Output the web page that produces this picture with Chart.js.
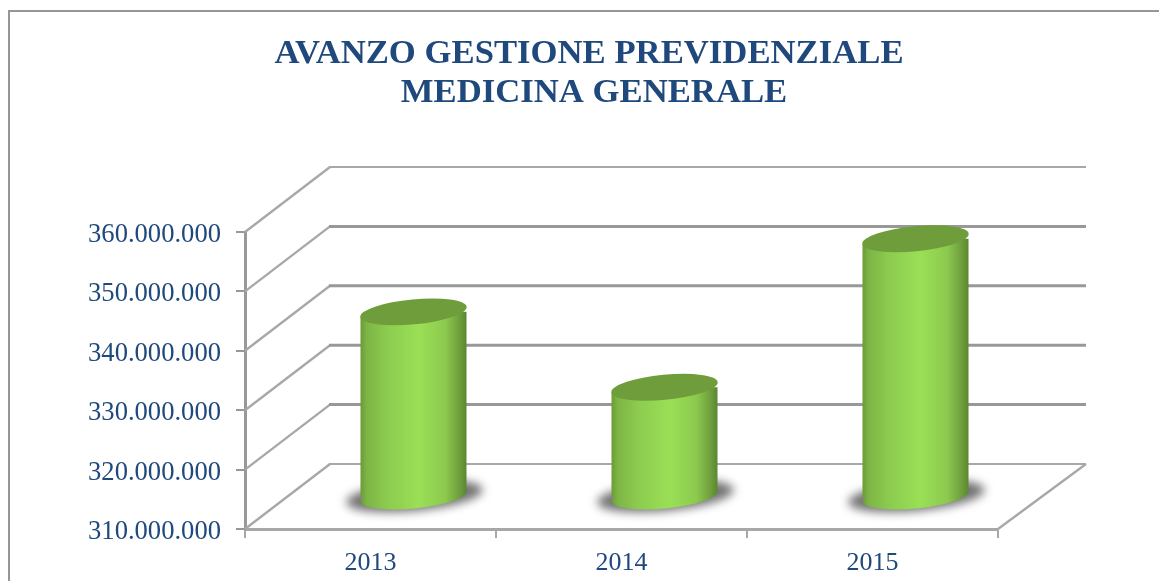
<!DOCTYPE html>
<html><head><meta charset="utf-8">
<style>html,body{margin:0;padding:0;background:#fff;overflow:hidden}
#w{position:absolute;left:0;top:0;width:1159px;height:581px}</style>
<script src="https://cdn.jsdelivr.net/npm/chart.js@4"></script></head>
<body><div id="w"><canvas id="c" width="1159" height="581"></canvas></div>
<script>
const categories = ['2013','2014','2015'];
const values = [341000000, 328300000, 353300000];
const titleLines = ['AVANZO GESTIONE PREVIDENZIALE','MEDICINA GENERALE'];
const yMin = 310000000, yMax = 360000000, yStep = 10000000;
const navy = '#1f497d', grey = '#989898', light = '#a8a8a8';
const DX = 85, DXR = 88, DY = -65;  // depth of the 3D box
const MX = 43, MY = -33;            // cylinder axis offset within the depth
const RY = 12.5, TILT = -0.095;     // ellipse shape of the cylinder ends
const CAT_PCT = 0.53, BAR_PCT = 0.8;

function fmt(v){ return String(v).replace(/\B(?=(\d{3})+(?!\d))/g,'.'); }

function ell(ctx,x,y,rx,ry,fill){
  ctx.beginPath(); ctx.ellipse(x,y,rx/Math.cos(TILT),ry,TILT,0,Math.PI*2); ctx.fillStyle=fill; ctx.fill();
}
function sideGrad(ctx,l,r){
  const g=ctx.createLinearGradient(l,0,r,0);
  g.addColorStop(0,'#6a9a38'); g.addColorStop(0.06,'#7db545'); g.addColorStop(0.25,'#8ccb4f');
  g.addColorStop(0.55,'#9ae056'); g.addColorStop(0.8,'#8cc94e'); g.addColorStop(0.93,'#6f9f3d'); g.addColorStop(1,'#5a8630');
  return g;
}

const box3d = {
  id:'box3d',
  beforeDatasetsDraw(chart){
    const {ctx,scales:{y},chartArea:a}=chart;
    ctx.save();
    y.ticks.forEach((t,i)=>{
      const py=y.getPixelForValue(t.value);
      const edge=(i===0||i===y.ticks.length-1);
      ctx.strokeStyle=light; ctx.lineWidth=2.4;
      ctx.beginPath(); ctx.moveTo(a.left,py); ctx.lineTo(a.left+DX,py+DY); ctx.stroke();
      ctx.strokeStyle=edge?light:grey; ctx.lineWidth=edge?2:3;
      ctx.beginPath(); ctx.moveTo(a.left+DX-1,py+DY); ctx.lineTo(a.right+DXR,py+DY); ctx.stroke();
    });
    ctx.strokeStyle=light; ctx.lineWidth=2.4;
    ctx.beginPath(); ctx.moveTo(a.right,a.bottom); ctx.lineTo(a.right+DXR,a.bottom+DY); ctx.stroke();
    chart.getDatasetMeta(0).data.forEach(b=>{
      ctx.save();
      ctx.filter='blur(5px)';
      ell(ctx,b.x+MX+1,a.bottom+MY,b.width/2+15,15,'rgba(90,90,90,0.85)');
      ctx.restore();
    });
    ctx.restore();
    // cylinder bodies are the library's bars, shifted to mid-depth and clipped to a slanted band
    ctx.save();
    ctx.translate(MX,MY);
    const bars=chart.getDatasetMeta(0).data;
    bars.forEach(b=>{
      const w=b.width/2;
      ell(ctx,b.x,a.bottom,w,RY,sideGrad(ctx,b.x-w,b.x+w));
    });
    const s=Math.tan(-TILT);
    ctx.beginPath();
    bars.forEach(b=>{
      const w=b.width/2;
      ctx.moveTo(b.x-w,b.y+w*s);
      ctx.lineTo(b.x+w,b.y-w*s);
      ctx.lineTo(b.x+w,a.bottom-w*s);
      ctx.lineTo(b.x-w,a.bottom+w*s);
      ctx.closePath();
    });
    ctx.save();
    ctx.clip();
  },
  afterDatasetsDraw(chart){
    const {ctx}=chart;
    ctx.restore();
    chart.getDatasetMeta(0).data.forEach(b=>{
      ell(ctx,b.x,b.y,b.width/2,RY,'#709d3b');
    });
    ctx.restore();
  },
  afterDraw(chart){
    const {ctx}=chart;
    ctx.save();
    ctx.strokeStyle='#969696'; ctx.lineWidth=2;
    ctx.beginPath(); ctx.moveTo(9,581); ctx.lineTo(9,11); ctx.lineTo(1159,11); ctx.stroke();
    ctx.fillStyle=navy; ctx.textAlign='center'; ctx.textBaseline='alphabetic';
    ctx.font='bold 34.7px "Liberation Serif"';
    ctx.fillText(titleLines[0],589,63);
    ctx.fillText(titleLines[1],594,102);
    ctx.restore();
  }
};

new Chart(document.getElementById('c'),{
  type:'bar',
  data:{labels:categories,datasets:[{
    data:values,
    backgroundColor(ctx){
      const sx=ctx.chart.scales.x;
      if(!sx||!sx.width) return '#8cc94f';
      const w=sx.width/categories.length*CAT_PCT*BAR_PCT/2;
      const cx=sx.getPixelForValue(ctx.dataIndex);
      return sideGrad(ctx.chart.ctx,cx-w,cx+w);
    },
    borderWidth:0, barPercentage:BAR_PCT, categoryPercentage:CAT_PCT
  }]},
  options:{
    responsive:false, animation:false, events:[],
    layout:{padding:{left:0,top:232,right:161,bottom:0}},
    plugins:{legend:{display:false},tooltip:{enabled:false},title:{display:false}},
    scales:{
      x:{afterFit(s){ s.height=52; },
         grid:{display:true,drawOnChartArea:false,color:light,lineWidth:2,tickLength:9},
         border:{color:light,width:3},
         ticks:{color:navy,font:{family:'Liberation Serif',size:26},padding:10,maxRotation:0}},
      y:{min:yMin,max:yMax,
         afterFit(s){ s.width=245; },
         grid:{display:true,drawOnChartArea:false,color:grey,lineWidth:2,tickLength:9},
         border:{color:grey,width:3},
         ticks:{stepSize:yStep,color:navy,font:{family:'Liberation Serif',size:26.6},padding:15,labelOffset:3,callback:v=>fmt(v)}}
    }
  },
  plugins:[box3d]
});
</script></body></html>
